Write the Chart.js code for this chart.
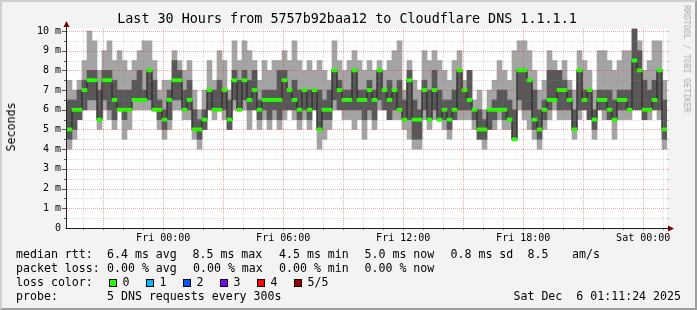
<!DOCTYPE html>
<html>
<head>
<meta charset="utf-8">
<title>Last 30 Hours from 5757b92baa12 to Cloudflare DNS 1.1.1.1</title>
<script src="https://cdn.jsdelivr.net/npm/chart.js@4.4.1/dist/chart.umd.min.js"></script>
<style>
  html, body { margin: 0; padding: 0; background: #f3f3f3; }
  #wrap {
    position: relative; width: 697px; height: 310px; overflow: hidden;
    background: #f3f3f3; color: #000;
    font-family: "DejaVu Sans Mono", monospace;
    box-sizing: border-box;
  }
  #frame {
    position: absolute; left: 0; top: 0; width: 697px; height: 310px; box-sizing: border-box;
    border-top: 2px solid #cfcfcf; border-left: 2px solid #cfcfcf;
    border-right: 2px solid #9e9e9e; border-bottom: 2px solid #9e9e9e;
    pointer-events: none;
  }
  #wrap canvas { position: absolute; left: 0; top: 0; }
  .t { position: absolute; white-space: pre; font-size: 11.6px; line-height: 14px; }
  .title { position: absolute; left: 347px; top: 11px; transform: translateX(-50%); white-space: pre; font-size: 13.4px; line-height: 16px; }
  .box { position: absolute; width: 6px; height: 6px; border: 1px solid #000; }
</style>
</head>
<body>
<div id="wrap">
  <canvas id="smokeChart" width="697" height="310"></canvas>
  <div class="title">Last 30 Hours from 5757b92baa12 to Cloudflare DNS 1.1.1.1</div>
  <div class="t" style="left:11px;top:127px;transform:translate(-50%,-50%) rotate(-90deg);">Seconds</div>
  <div class="t" style="left:687px;top:59px;font-size:8.1px;line-height:10px;color:#aaaaaa;transform:translate(-50%,-50%) rotate(90deg);">RRDTOOL / TOBI OETIKER</div>

  <div class="t" style="left:16px;top:247px;">median rtt:</div>
  <div class="t" style="left:107px;top:247px;">6.4 ms avg</div>
  <div class="t" style="left:192.5px;top:247px;">8.5 ms max</div>
  <div class="t" style="left:279px;top:247px;">4.5 ms min</div>
  <div class="t" style="left:364.5px;top:247px;">5.0 ms now</div>
  <div class="t" style="left:450.5px;top:247px;">0.8 ms sd</div>
  <div class="t" style="left:527.5px;top:247px;">8.5</div>
  <div class="t" style="left:572px;top:247px;">am/s</div>

  <div class="t" style="left:16px;top:261px;">packet loss:</div>
  <div class="t" style="left:107px;top:261px;">0.00 % avg</div>
  <div class="t" style="left:193px;top:261px;">0.00 % max</div>
  <div class="t" style="left:279px;top:261px;">0.00 % min</div>
  <div class="t" style="left:364.5px;top:261px;">0.00 % now</div>

  <div class="t" style="left:16px;top:275px;">loss color:</div>
  <div id="lossLegend"></div>

  <div class="t" style="left:16px;top:289px;">probe:</div>
  <div class="t" style="left:107px;top:289px;">5 DNS requests every 300s</div>
  <div class="t" style="right:16px;top:289px;">Sat Dec  6 01:11:24 2025</div>
  <div id="frame"></div>
</div>
<script>
// 30 hours, one column every 15 minutes, values in milliseconds
const startStamp = '2025-12-04T19:11:24';
const stepMinutes = 15;
const spanMinutes = 1800;

// ping 1 (fastest) .. ping 5 (slowest) of each probe round, plus the median
const smokeMin = [
  4.0, 4.5, 5.5, 6.0, 6.0, 6.0, 5.0, 6.0, 5.5, 5.0,
  6.0, 4.5, 5.0, 6.0, 6.0, 6.0, 6.0, 6.0, 5.0, 4.5,
  5.0, 6.0, 6.0, 5.5, 5.5, 4.5, 4.0, 5.0, 6.0, 5.5,
  6.0, 5.5, 5.0, 6.0, 6.0, 6.0, 5.0, 6.0, 5.0, 5.5,
  5.0, 5.5, 5.0, 5.5, 6.0, 5.5, 5.0, 5.5, 5.0, 6.0,
  4.0, 4.5, 5.0, 6.0, 6.0, 5.5, 5.5, 5.0, 5.5, 4.5,
  5.5, 5.0, 6.0, 6.0, 5.5, 5.5, 5.5, 5.0, 4.5, 4.0,
  4.0, 5.5, 5.0, 5.5, 5.5, 5.0, 4.5, 5.5, 5.5, 5.5,
  5.5, 5.0, 4.5, 4.0, 5.0, 5.0, 5.5, 5.0, 5.0, 4.5,
  6.0, 5.5, 5.0, 4.5, 4.0, 5.0, 5.5, 6.0, 5.5, 5.5,
  5.5, 4.5, 5.5, 6.0, 5.5, 4.5, 6.0, 5.5, 5.5, 4.5,
  5.5, 5.5, 5.5, 6.0, 6.0, 5.5, 5.5, 6.0, 5.5, 4.0
];
const smokeLow = [
  4.5, 5.0, 5.5, 6.0, 6.5, 6.5, 5.5, 6.5, 6.0, 5.5,
  6.0, 5.5, 6.0, 6.5, 6.5, 6.5, 6.5, 6.0, 5.5, 5.0,
  5.5, 6.5, 6.5, 6.0, 6.0, 5.0, 4.5, 5.0, 6.0, 6.0,
  6.0, 6.0, 5.0, 6.5, 6.0, 6.5, 6.0, 6.0, 5.5, 6.0,
  5.5, 6.0, 5.5, 6.0, 6.0, 6.0, 5.5, 6.0, 5.5, 6.0,
  5.0, 5.5, 5.5, 6.5, 6.0, 6.0, 6.0, 6.0, 6.0, 5.5,
  6.0, 5.5, 6.5, 6.0, 5.5, 6.0, 6.0, 5.5, 5.5, 4.5,
  4.5, 6.0, 5.5, 6.0, 5.5, 5.5, 5.0, 5.5, 6.0, 6.0,
  6.0, 5.5, 4.5, 4.5, 5.0, 5.5, 6.0, 5.5, 5.5, 4.5,
  6.5, 6.0, 6.0, 5.0, 4.5, 5.5, 6.0, 6.5, 6.0, 6.0,
  6.0, 5.0, 6.0, 6.0, 5.5, 5.0, 6.0, 6.0, 5.5, 5.5,
  6.0, 6.0, 6.0, 6.0, 6.0, 5.5, 6.0, 6.0, 6.0, 4.5
];
const medianRtt = [
  5.0, 6.0, 6.0, 7.0, 7.5, 7.5, 5.5, 7.5, 7.5, 6.5,
  6.0, 6.0, 6.0, 6.5, 6.5, 6.5, 8.0, 6.0, 6.0, 5.5,
  6.5, 7.5, 7.5, 6.0, 6.5, 5.0, 5.0, 5.5, 7.0, 6.0,
  6.0, 7.0, 5.5, 7.5, 6.0, 7.5, 6.5, 7.0, 6.0, 6.5,
  6.5, 6.5, 6.5, 7.5, 7.0, 6.5, 6.0, 7.0, 6.0, 7.0,
  5.0, 6.0, 6.0, 8.0, 7.0, 6.5, 6.5, 8.0, 6.5, 6.5,
  7.0, 6.5, 8.0, 7.0, 6.5, 7.0, 6.0, 5.5, 7.5, 5.5,
  5.5, 7.0, 5.5, 7.0, 5.5, 6.0, 5.5, 6.0, 8.0, 7.0,
  6.5, 6.0, 5.0, 5.0, 6.0, 6.0, 6.0, 6.0, 5.5, 4.5,
  8.0, 8.0, 7.5, 5.5, 5.0, 6.0, 6.5, 6.5, 7.0, 7.0,
  6.5, 5.0, 8.0, 6.5, 7.0, 5.5, 6.5, 6.5, 6.0, 5.5,
  6.5, 6.5, 6.0, 8.5, 8.0, 6.0, 6.0, 6.5, 8.0, 5.0
];
const smokeHigh = [
  6.5, 6.5, 7.0, 7.5, 8.0, 8.0, 7.0, 8.0, 8.0, 7.5,
  7.0, 7.0, 7.0, 7.5, 8.0, 7.0, 8.0, 7.5, 6.5, 6.0,
  7.0, 8.5, 8.0, 7.0, 7.5, 6.0, 5.5, 6.0, 7.0, 7.0,
  7.5, 7.0, 6.5, 8.0, 7.5, 8.0, 7.5, 8.0, 6.5, 7.0,
  7.0, 7.0, 8.0, 8.0, 7.0, 7.5, 7.0, 7.0, 7.0, 7.0,
  7.0, 6.5, 7.0, 8.0, 7.5, 7.0, 7.0, 8.0, 7.0, 7.0,
  7.5, 7.0, 8.0, 7.0, 7.5, 7.0, 7.5, 6.5, 8.0, 6.5,
  6.0, 7.5, 7.0, 8.0, 7.0, 6.5, 6.5, 7.0, 8.0, 7.0,
  8.0, 6.0, 6.0, 5.5, 6.0, 6.5, 7.0, 7.0, 6.5, 6.0,
  8.0, 8.0, 7.5, 7.0, 6.0, 6.5, 8.0, 8.0, 8.0, 7.5,
  7.0, 6.0, 8.0, 7.0, 7.0, 6.0, 7.0, 7.0, 7.0, 6.5,
  7.0, 7.0, 7.0, 10.1, 9.0, 7.5, 7.0, 7.5, 8.0, 6.5
];
const smokeMax = [
  7.5, 7.0, 7.5, 8.5, 10.0, 9.5, 8.0, 9.0, 9.5, 8.5,
  9.0, 8.5, 8.0, 8.5, 9.0, 9.5, 9.5, 8.5, 7.0, 7.5,
  7.5, 9.0, 8.5, 8.0, 8.5, 7.0, 6.0, 7.0, 8.5, 7.5,
  9.0, 8.5, 7.0, 9.5, 8.5, 9.5, 9.0, 8.5, 7.5, 8.5,
  8.0, 8.5, 8.5, 9.0, 8.5, 9.5, 8.5, 8.0, 8.5, 8.0,
  8.5, 8.0, 7.5, 9.5, 8.5, 8.0, 8.5, 9.0, 8.5, 8.0,
  8.5, 8.0, 8.5, 8.0, 8.5, 9.0, 9.5, 7.0, 8.5, 7.5,
  7.0, 9.0, 8.5, 9.0, 8.5, 8.0, 7.5, 8.5, 9.0, 7.5,
  8.0, 6.5, 7.0, 6.0, 7.0, 7.5, 8.5, 8.0, 7.5, 9.0,
  9.5, 9.5, 9.0, 8.0, 7.0, 7.5, 9.0, 8.5, 8.0, 8.5,
  7.5, 7.0, 9.0, 8.5, 8.0, 7.0, 9.0, 9.0, 8.5, 8.0,
  8.5, 9.0, 9.0, 10.1, 9.5, 8.0, 8.5, 9.5, 9.5, 7.5
];

const timeTickLabels = ['Fri 00:00', 'Fri 06:00', 'Fri 12:00', 'Fri 18:00', 'Sat 00:00'];
const timeTickStamps = ['2025-12-05T00:00:00', '2025-12-05T06:00:00', '2025-12-05T12:00:00',
                        '2025-12-05T18:00:00', '2025-12-06T00:00:00'];
const yTickValues = [0, 1, 2, 3, 4, 5, 6, 7, 8, 9, 10];
const yTickLabels = ['0', '1 m', '2 m', '3 m', '4 m', '5 m', '6 m', '7 m', '8 m', '9 m', '10 m'];

const lossLabels = ['0', '1', '2', '3', '4', '5/5'];
const lossColors = ['#26ff00', '#00b8ff', '#0059ff', '#7e00ff', '#ff0000', '#a00000'];

const startMs = new Date(startStamp).getTime();
const minutesFromStart = s => (new Date(s).getTime() - startMs) / 60000;
const colX = i => i * stepMinutes + stepMinutes / 2;
const timeTickAt = timeTickStamps.map(minutesFromStart);

// loss colour legend
const lossLegend = document.getElementById('lossLegend');
lossLabels.forEach((lab, i) => {
    const b = document.createElement('div');
    b.className = 'box';
    b.style.left = (108.5 + i * 37) + 'px';
    b.style.top = '279px';
    b.style.background = lossColors[i];
    lossLegend.appendChild(b);
    const t = document.createElement('div');
    t.className = 't';
    t.style.left = (122.5 + i * 37) + 'px';
    t.style.top = '275px';
    t.textContent = lab;
    lossLegend.appendChild(t);
});

// rrdtool style canvas, dotted grid (drawn over the smoke) and arrows
const rrdLook = {
    id: 'rrdLook',
    beforeDatasetsDraw(chart) {
        const { ctx, chartArea: a } = chart;
        ctx.save();
        ctx.fillStyle = '#ffffff';
        ctx.fillRect(a.left, a.top, a.right - a.left, a.bottom - a.top);
        ctx.restore();
    },
    afterDatasetsDraw(chart) {
        const { ctx, chartArea: a, scales: { x, y } } = chart;
        const minorCol = 'rgba(143,143,143,0.30)';
        const majorCol = 'rgba(222,48,48,0.40)';
        ctx.save();
        ctx.lineWidth = 1;

        // horizontal: every 0.5 ms, red at whole ms
        for (let v = 0.5; v <= y.max; v += 0.5) {
            const py = Math.round(y.getPixelForValue(v)) + 0.5;
            const major = Number.isInteger(v);
            ctx.setLineDash([1, 1]);
            ctx.strokeStyle = major ? majorCol : minorCol;
            ctx.beginPath(); ctx.moveTo(a.left, py); ctx.lineTo(a.right, py); ctx.stroke();
            ctx.setLineDash([]);
            ctx.strokeStyle = '#555';
            ctx.beginPath(); ctx.moveTo(a.left - (major ? 5 : 3), py); ctx.lineTo(a.left - 1, py); ctx.stroke();
            ctx.strokeStyle = '#bbbbbb';
            ctx.beginPath(); ctx.moveTo(a.right, py); ctx.lineTo(a.right + 2, py); ctx.stroke();
        }

        // vertical: every full hour, red every third hour
        const start = new Date(startMs);
        let m = 60 - start.getMinutes() - start.getSeconds() / 60;
        for (; m <= spanMinutes; m += 60) {
            const hour = new Date(startMs + m * 60000).getHours();
            const px = Math.round(x.getPixelForValue(m)) + 0.5;
            ctx.setLineDash([1, 1]);
            ctx.strokeStyle = hour % 3 === 0 ? majorCol : minorCol;
            ctx.beginPath(); ctx.moveTo(px, a.top); ctx.lineTo(px, a.bottom); ctx.stroke();
            ctx.setLineDash([]);
            ctx.strokeStyle = '#888';
            ctx.beginPath(); ctx.moveTo(px, a.bottom); ctx.lineTo(px, a.bottom + 2); ctx.stroke();
        }

        // axes
        ctx.setLineDash([]);
        ctx.strokeStyle = '#222';
        const ax = a.left - 0.5, ay = a.bottom + 0.5;
        ctx.beginPath(); ctx.moveTo(ax, ay); ctx.lineTo(ax, a.top - 2); ctx.stroke();
        ctx.beginPath(); ctx.moveTo(ax - 1, ay); ctx.lineTo(a.right + 2, ay); ctx.stroke();
        ctx.fillStyle = '#7f0000';
        ctx.beginPath(); ctx.moveTo(ax, a.top - 7); ctx.lineTo(ax - 3, a.top - 1); ctx.lineTo(ax + 3, a.top - 1); ctx.closePath(); ctx.fill();
        ctx.beginPath(); ctx.moveTo(a.right + 7, ay); ctx.lineTo(a.right + 1, ay - 3); ctx.lineTo(a.right + 1, ay + 3); ctx.closePath(); ctx.fill();
        ctx.restore();
    }
};

const ctx = document.getElementById('smokeChart').getContext('2d');
new Chart(ctx, {
    type: 'bar',
    data: {
        datasets: [{
            label: 'ping 1-5',
            data: smokeMin.map((v, i) => ({ x: colX(i), y: [v, smokeMax[i]] })),
            backgroundColor: '#a4a4a4',
            order: 4
        }, {
            label: 'ping 2-4',
            data: smokeLow.map((v, i) => ({ x: colX(i), y: [v, smokeHigh[i]] })),
            backgroundColor: '#585858',
            order: 3
        }, {
            type: 'line',
            label: 'median',
            data: medianRtt.map((v, i) => ({ x: colX(i), y: v })),
            borderColor: '#202020',
            borderWidth: 1,
            stepped: 'middle',
            pointRadius: 0,
            fill: false,
            order: 2
        }, {
            label: 'median, loss 0',
            data: medianRtt.map((v, i) => ({ x: colX(i), y: [v - 0.08, v + 0.08] })),
            backgroundColor: lossColors[0],
            order: 1
        }]
    },
    options: {
        responsive: false,
        animation: false,
        events: [],
        layout: { padding: { left: 0, top: 28, right: 30, bottom: 62 } },
        datasets: {
            bar: { grouped: false, categoryPercentage: 1, barPercentage: 1, borderWidth: 0 }
        },
        plugins: {
            legend: { display: false },
            title: { display: false },
            tooltip: { enabled: false }
        },
        scales: {
            x: {
                type: 'linear',
                min: 0,
                max: spanMinutes,
                offset: false,
                grid: { display: false, drawTicks: false, offset: false },
                border: { display: false },
                afterBuildTicks: s => { s.ticks = timeTickAt.map(v => ({ value: v })); },
                afterFit: s => { s.height = 20; },
                ticks: {
                    callback: (v, i) => timeTickLabels[i],
                    autoSkip: false,
                    maxRotation: 0,
                    padding: 4,
                    color: '#000',
                    font: { family: 'DejaVu Sans Mono', size: 10 }
                }
            },
            y: {
                min: 0,
                max: 10.15,
                grid: { display: false, drawTicks: false },
                border: { display: false },
                afterBuildTicks: s => { s.ticks = yTickValues.map(v => ({ value: v })); },
                afterFit: s => { s.width = 67; },
                ticks: {
                    callback: (v, i) => yTickLabels[i],
                    padding: 6,
                    color: '#000',
                    font: { family: 'DejaVu Sans Mono', size: 10 }
                }
            }
        }
    },
    plugins: [rrdLook]
});
</script>
</body>
</html>
